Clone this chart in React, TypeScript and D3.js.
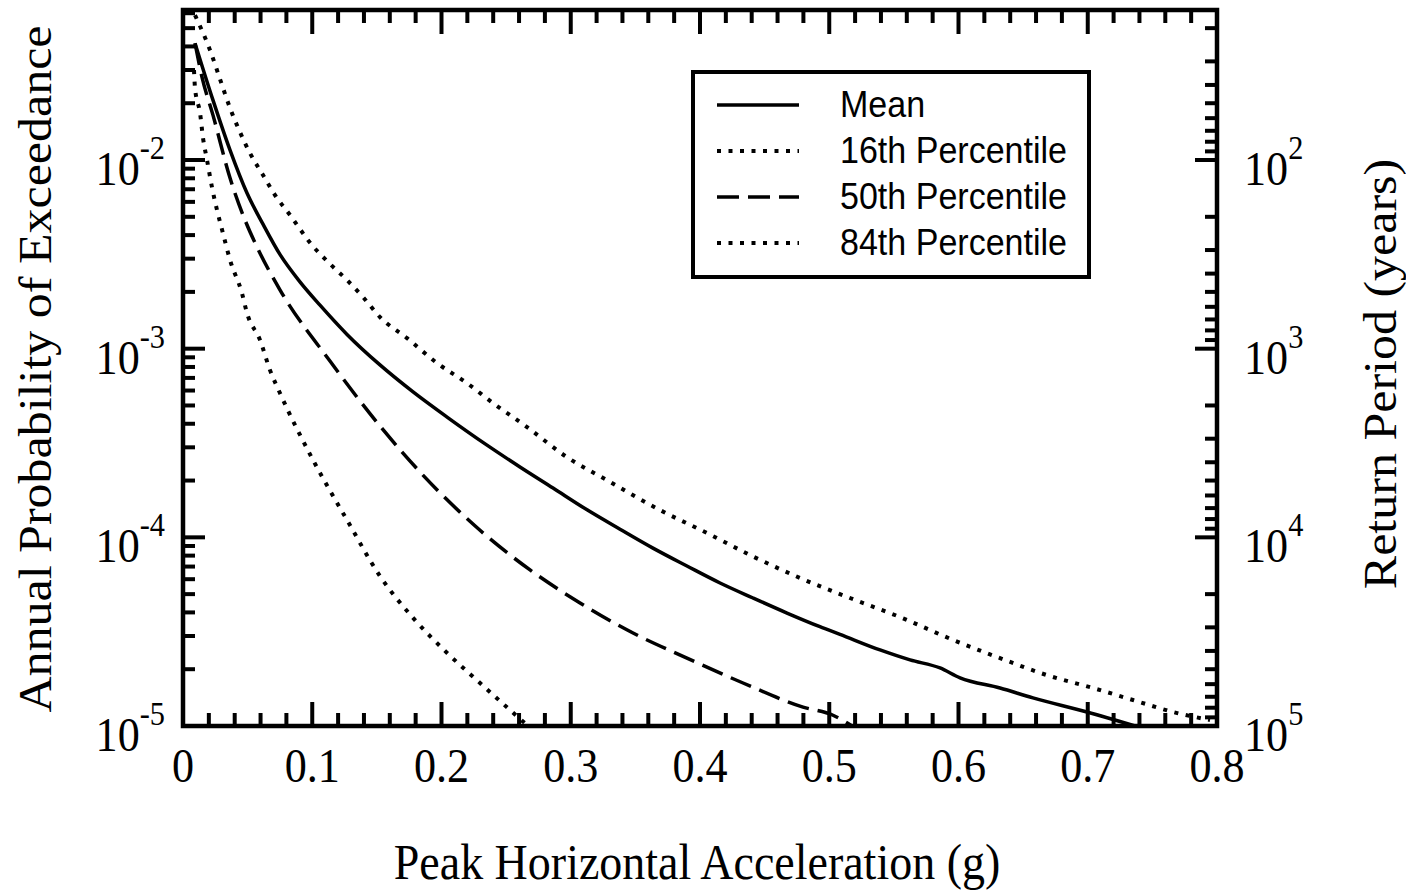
import React from "react";
import * as d3 from "d3";

// ---- data ----
const MEAN_G = [0.0093, 0.0232, 0.0364, 0.0495, 0.0619, 0.075, 0.0905, 0.106, 0.1269, 0.1524, 0.178, 0.2043, 0.2352, 0.2607, 0.2863, 0.3126, 0.3381, 0.3636, 0.3899, 0.4155, 0.441, 0.4673, 0.4928, 0.5083, 0.5393, 0.5625, 0.5857, 0.6012, 0.6321, 0.6576, 0.6994, 0.7366];
const MEAN_P = [0.0416, 0.02077, 0.01128, 0.00668, 0.00457, 0.00316, 0.00226, 0.0017, 0.00119, 8.2e-4, 5.9e-4, 4.34e-4, 3.08e-4, 2.36e-4, 1.825e-4, 1.40e-4, 1.105e-4, 8.77e-5, 7.05e-5, 5.73e-5, 4.77e-5, 3.97e-5, 3.36e-5, 3.06e-5, 2.53e-5, 2.24e-5, 2.03e-5, 1.8e-5, 1.59e-5, 1.41e-5, 1.186e-5, 1.0e-5];

const P16_G = [0.0093, 0.0209, 0.0302, 0.0364, 0.0441, 0.0518, 0.0619, 0.0712, 0.0828, 0.0998, 0.1122, 0.1269, 0.1393, 0.1524, 0.1733, 0.1965, 0.2197, 0.2398, 0.2662, 0.2971, 0.328, 0.3691, 0.4054, 0.4387, 0.4774, 0.516, 0.5547, 0.5957, 0.6321, 0.6685, 0.7041, 0.735, 0.766, 0.7946];
const P16_P = [0.0586, 0.03823, 0.02493, 0.01884, 0.01405, 0.01088, 0.00832, 0.00652, 0.00511, 0.00354, 0.00288, 0.00231, 0.001877, 0.00147, 0.001138, 8.39e-4, 6.57e-4, 5.15e-4, 3.84e-4, 2.66e-4, 2.01e-4, 1.395e-4, 1.054e-4, 8.06e-5, 6.09e-5, 4.77e-5, 3.78e-5, 2.86e-5, 2.29e-5, 1.86e-5, 1.59e-5, 1.373e-5, 1.186e-5, 1.076e-5];

const P50_G = [0.0093, 0.0147, 0.0232, 0.0364, 0.048, 0.0573, 0.075, 0.1137, 0.1524, 0.1834, 0.2298, 0.2685, 0.3072, 0.3482, 0.3899, 0.4333, 0.4797, 0.5029, 0.5176];
const P50_P = [0.0416, 0.0275, 0.0173, 0.00802, 0.0048, 0.003454, 0.00205, 8.6e-4, 3.89e-4, 2.22e-4, 1.09e-4, 6.72e-5, 4.49e-5, 3.11e-5, 2.29e-5, 1.69e-5, 1.26e-5, 1.14e-5, 1.0e-5];

const P84_G = [0.0085, 0.0093, 0.0132, 0.0155, 0.0186, 0.0224, 0.0263, 0.0309, 0.0364, 0.0456, 0.0495, 0.0596, 0.0673, 0.075, 0.1006, 0.1269, 0.1524, 0.178, 0.2043, 0.2298, 0.253, 0.267];
const P84_P = [0.03, 0.02404, 0.01772, 0.01306, 0.00999, 0.00718, 0.00543, 0.0041, 0.00295, 0.00197, 0.001544, 0.00111, 7.7e-4, 5.82e-4, 2.57e-4, 1.235e-4, 6.23e-5, 3.74e-5, 2.44e-5, 1.69e-5, 1.216e-5, 1.0e-5];

const X_TICK_LABELS = ["0", "0.1", "0.2", "0.3", "0.4", "0.5", "0.6", "0.7", "0.8"];
const Y_LEFT_EXPONENTS = [-5, -4, -3, -2];
const Y_RIGHT_EXPONENTS = [2, 3, 4, 5];
const LEGEND_LABELS = ["Mean", "16th Percentile", "50th Percentile", "84th Percentile"];

const X_TITLE = "Peak Horizontal Acceleration (g)";
const Y_TITLE = "Annual Probability of Exceedance";
const Y2_TITLE = "Return Period (years)";

// ---- layout ----
const W = 1406;
const H = 890;
const L = 183, R = 1217, T = 10, B = 726;
const SERIF = "'Liberation Serif', 'Times New Roman', serif";
const SANS = "'Liberation Sans', Arial, sans-serif";
const SX = 0.92;

export default function App() {
  const x = d3.scaleLinear().domain([0, 0.8]).range([L, R]);
  const y = d3.scaleLog().domain([1e-5, 0.0624]).range([B, T]);
  const yR = d3.scaleLog().domain([1e5, 1 / 0.0624]).range([B, T]);

  const line = d3
    .line<[number, number]>()
    .x((d) => x(d[0]))
    .y((d) => y(d[1]))
    .curve(d3.curveMonotoneX);

  const zip = (g: number[], p: number[]) => g.map((v, i) => [v, p[i]] as [number, number]);

  const series = [
    { data: zip(MEAN_G, MEAN_P), dash: null as string | null, w: 3.5 },
    { data: zip(P16_G, P16_P), dash: "4 7.5", w: 4 },
    { data: zip(P50_G, P50_P), dash: "22 9", w: 3.5 },
    { data: zip(P84_G, P84_P), dash: "4 7.5", w: 4 },
  ];

  const xMinor = d3.range(0, 41).map((i) => i * 0.02);
  const leftTicks: { v: number; major: boolean }[] = [];
  for (let n = -5; n <= -2; n++) {
    for (let k = 1; k <= 9; k++) {
      const v = k * Math.pow(10, n);
      if (v >= 1e-5 && v <= 0.0624) leftTicks.push({ v, major: k === 1 });
    }
  }
  const rightTicks: { v: number; major: boolean }[] = [];
  for (let n = 1; n <= 5; n++) {
    for (let k = 1; k <= 9; k++) {
      const v = k * Math.pow(10, n);
      if (v >= 1 / 0.0624 && v <= 1e5) rightTicks.push({ v, major: k === 1 });
    }
  }

  const tickStroke = 4;

  return (
    <svg
      width={W}
      height={H}
      style={{ position: "absolute", left: 0, top: 0, background: "#fff" }}
      xmlns="http://www.w3.org/2000/svg"
    >
      <rect x={0} y={0} width={W} height={H} fill="#fff" />
      <defs>
        <clipPath id="plotclip">
          <rect x={L} y={T} width={R - L} height={B - T} />
        </clipPath>
      </defs>

      <g clipPath="url(#plotclip)">
        {series.map((s, i) => (
          <path
            key={i}
            d={line(s.data) || ""}
            fill="none"
            stroke="#000"
            strokeWidth={s.w}
            strokeDasharray={s.dash || undefined}
          />
        ))}
      </g>

      {xMinor.map((v, i) => {
        const major = i % 5 === 0;
        const len = major ? 24 : 13;
        const px = x(v);
        return (
          <g key={"xt" + i}>
            <line x1={px} x2={px} y1={B} y2={B - len} stroke="#000" strokeWidth={tickStroke} />
            <line x1={px} x2={px} y1={T} y2={T + len} stroke="#000" strokeWidth={tickStroke} />
          </g>
        );
      })}

      {leftTicks.map((t, i) => (
        <line
          key={"lt" + i}
          x1={L}
          x2={L + (t.major ? 22 : 12)}
          y1={y(t.v)}
          y2={y(t.v)}
          stroke="#000"
          strokeWidth={tickStroke}
        />
      ))}
      {rightTicks.map((t, i) => (
        <line
          key={"rt" + i}
          x1={R}
          x2={R - (t.major ? 22 : 12)}
          y1={yR(t.v)}
          y2={yR(t.v)}
          stroke="#000"
          strokeWidth={tickStroke}
        />
      ))}

      <rect x={L} y={T} width={R - L} height={B - T} fill="none" stroke="#000" strokeWidth={4.5} />

      {X_TICK_LABELS.map((lab, i) => (
        <text
          key={"xl" + i}
          transform={`translate(${x(i * 0.1)},782) scale(${SX},1)`}
          textAnchor="middle"
          fontFamily={SERIF}
          fontSize={48}
          fill="#000"
        >
          {lab}
        </text>
      ))}

      {Y_LEFT_EXPONENTS.map((e) => (
        <text
          key={"yl" + e}
          transform={`translate(165,${y(Math.pow(10, e)) + 25}) scale(${SX},1)`}
          textAnchor="end"
          fontFamily={SERIF}
          fontSize={48}
          fill="#000"
        >
          <tspan>10</tspan>
          <tspan dy={-26} fontSize={33}>{"-" + Math.abs(e)}</tspan>
        </text>
      ))}

      {Y_RIGHT_EXPONENTS.map((e) => (
        <text
          key={"yr" + e}
          transform={`translate(1244,${yR(Math.pow(10, e)) + 25}) scale(${SX},1)`}
          textAnchor="start"
          fontFamily={SERIF}
          fontSize={48}
          fill="#000"
        >
          <tspan>10</tspan>
          <tspan dy={-26} fontSize={33}>{String(e)}</tspan>
        </text>
      ))}

      <text
        transform={`translate(697,879) scale(${SX},1)`}
        textAnchor="middle"
        fontFamily={SERIF}
        fontSize={50}
        fill="#000"
      >
        {X_TITLE}
      </text>
      <text
        transform={`translate(51,369) scale(${SX},1) rotate(-90)`}
        textAnchor="middle"
        fontFamily={SERIF}
        fontSize={50}
        fill="#000"
      >
        {Y_TITLE}
      </text>
      <text
        transform={`translate(1396,374) scale(${SX},1) rotate(-90)`}
        textAnchor="middle"
        fontFamily={SERIF}
        fontSize={50}
        fill="#000"
      >
        {Y2_TITLE}
      </text>

      <rect x={693} y={72} width={396} height={205} fill="#fff" stroke="#000" strokeWidth={4} />
      {LEGEND_LABELS.map((lab, i) => {
        const ly = 105 + i * 46;
        const s = series[i];
        return (
          <g key={"lg" + i}>
            <line
              x1={717}
              x2={799}
              y1={ly}
              y2={ly}
              stroke="#000"
              strokeWidth={s.w}
              strokeDasharray={s.dash || undefined}
            />
            <text
              transform={`translate(840,${ly + 12}) scale(${SX},1)`}
              fontFamily={SANS}
              fontSize={37}
              fill="#000"
            >
              {lab}
            </text>
          </g>
        );
      })}
    </svg>
  );
}
